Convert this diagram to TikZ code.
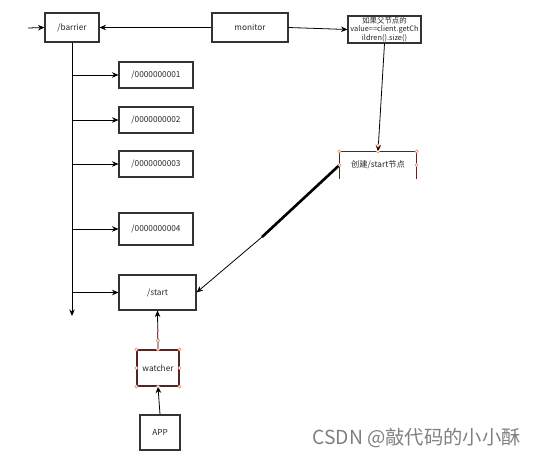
\documentclass[tikz,border=0pt]{standalone}
\usepackage{fontspec}
\setmainfont{Noto Sans CJK SC}
\usepackage{tikz}
\usetikzlibrary{positioning,arrows.meta,calc}
\tikzset{>={Stealth[width=1.1mm,length=1.3mm]}}

\begin{document}
\begin{tikzpicture}[
    x=0.02cm, y=-0.02cm,
    box/.style={
        draw=black!80,
        line width=0.6pt,
        inner sep=0pt,
        align=center,
        text=black!85,
        font=\fontsize{4.7}{5.4}\selectfont
        },
    handle/.style={draw=red!40!brown!70, fill=white, line width=0.3pt},
    link/.style={->, line width=0.45pt}
    ]
    \useasboundingbox (0,0) rectangle (540,457);

    % top row
    \node[box, minimum width=1.08cm, minimum height=0.58cm] (barrier) at (72,27.5) {/barrier};
    \node[box, minimum width=1.52cm, minimum height=0.58cm] (monitor) at (250,27.5) {monitor};
    \node[box, minimum width=1.46cm, minimum height=0.54cm,
          font=\fontsize{4.2}{5}\selectfont] (cond) at (384.5,29.5)
        {如果父节点的\\value==client.getCh\\ildren().size()};
    \coordinate (in) at (28,28);

    % children of /barrier
    \node[box, minimum width=1.48cm, minimum height=0.52cm] (n1) at (156,75) {/0000000001};
    \node[box, minimum width=1.48cm, minimum height=0.52cm] (n2) at (156,120) {/0000000002};
    \node[box, minimum width=1.48cm, minimum height=0.52cm] (n3) at (156,164) {/0000000003};
    \node[box, minimum width=1.48cm, minimum height=0.64cm] (n4) at (156,229) {/0000000004};
    \node[box, minimum width=1.54cm, minimum height=0.70cm] (start) at (157.5,292.5) {/start};
    \coordinate (trunk end) at (72,316);

    % watcher and app
    \node[box, draw=red!20!black!85, minimum width=0.84cm, minimum height=0.72cm] (watcher) at (158,368) {watcher};
    \node[box, minimum width=0.80cm, minimum height=0.70cm] (app) at (160,432.5) {APP};

    % create node (bottom edge not drawn)
    \node[box, draw=none, minimum width=1.52cm, minimum height=0.52cm] (create) at (378,165) {创建/start节点};
    \draw[red!20!black!85, line width=0.6pt]
        (create.south west) -- (create.north west) -- (create.north east) -- (create.south east);
    \coordinate (kink) at (262,237);

    \path[link]
    (in) edge (barrier.west)
    (monitor.west) edge (barrier.east)
    (monitor.east) edge (cond.west)
    (cond.south) edge (create.north)
    (barrier.south) edge (trunk end)
    (n1.west -| barrier.south) edge (n1.west)
    (n2.west -| barrier.south) edge (n2.west)
    (n3.west -| barrier.south) edge (n3.west)
    (n4.west -| barrier.south) edge (n4.west)
    (start.west -| barrier.south) edge (start.west)
    (watcher.north) edge (start.south)
    (app.north) edge (watcher.south)
    (kink) edge (start.east)
    ;
    \draw[line width=1.5pt] (create.west) -- (kink);

    % selection handles
    \foreach \a in {north west,north,north east,east,south east,south,south west,west}
        \draw[handle] (watcher.\a) circle (1.6);
    \draw[handle] ($(watcher.north)+(0,-9)$) circle (1.8);
    \fill[red!60] ($(watcher.north)+(0,-19)$) circle (1.1);
    \foreach \a in {north west,north,north east,west,east}
        \draw[handle] (create.\a) circle (1.6);
    \draw[handle] ($(create.north)+(0,-6)$) circle (1.8);

    \node[font=\fontsize{11}{12}\selectfont, text=black!50, anchor=west, inner sep=0pt] (mark) at (312,438) {CSDN @敲代码的小小酥};
\end{tikzpicture}
\end{document}
